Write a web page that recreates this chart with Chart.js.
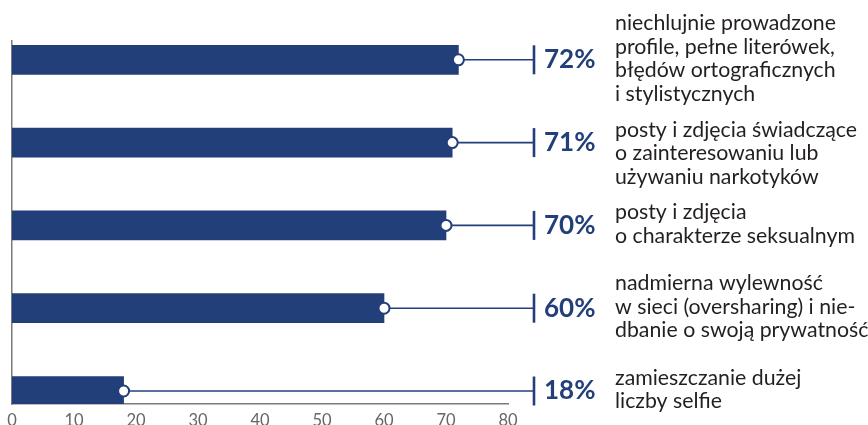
<!DOCTYPE html>
<html>
<head>
<meta charset="utf-8">
<script src="https://cdn.jsdelivr.net/npm/chart.js@4"></script>
<style>
  html, body { margin: 0; padding: 0; background: #fff; }
  #wrap { width: 868px; height: 425px; position: relative; }
</style>
</head>
<body>
<div id="wrap"><canvas id="chart"></canvas></div>
<script>
// data
const categories = [
  ["niechlujnie prowadzone", "profile, pełne literówek,", "błędów ortograficznych", "i stylistycznych"],
  ["posty i zdjęcia świadczące", "o zainteresowaniu lub", "używaniu narkotyków"],
  ["posty i zdjęcia", "o charakterze seksualnym"],
  ["nadmierna wylewność", "w sieci (oversharing) i nie-", "dbanie o swoją prywatność"],
  ["zamieszczanie dużej", "liczby selfie"]
];
const values = [72, 71, 70, 60, 18];
const percentLabels = ["72%", "71%", "70%", "60%", "18%"];
const xTicks = [0, 10, 20, 30, 40, 50, 60, 70, 80];

const BLUE = "#233f7a";
const AXIS = "#7a7a7a";

// connector line, marker, % label and description for every bar
const calloutPlugin = {
  id: "callouts",
  afterDatasetsDraw(chart) {
    const ctx = chart.ctx;
    const meta = chart.getDatasetMeta(0);
    const tickX = chart.chartArea.right + 26;
    meta.data.forEach((bar, i) => {
      const y = bar.y;
      ctx.save();
      ctx.strokeStyle = BLUE;
      ctx.lineWidth = 1.6;
      ctx.beginPath();
      ctx.moveTo(bar.x, y);
      ctx.lineTo(tickX, y);
      ctx.stroke();

      ctx.lineWidth = 2.6;
      ctx.beginPath();
      ctx.moveTo(tickX, y - 14.5);
      ctx.lineTo(tickX, y + 14.5);
      ctx.stroke();

      ctx.lineWidth = 2;
      ctx.fillStyle = "#fff";
      ctx.beginPath();
      ctx.arc(bar.x, y, 5.5, 0, Math.PI * 2);
      ctx.fill();
      ctx.stroke();

      ctx.fillStyle = BLUE;
      ctx.font = "bold 26px Lato";
      ctx.textAlign = "left";
      ctx.textBaseline = "middle";
      ctx.fillText(percentLabels[i], tickX + 10, y);

      // descriptions are centred on the bar, the second one sits a bit lower
      const lines = categories[i];
      const lh = 23.5;
      const nudge = i === 1 ? 12 : 0;
      ctx.fillStyle = "#231f20";
      ctx.font = "21.3px Lato";
      ctx.textBaseline = "alphabetic";
      let ly = y - (lines.length - 1) * lh / 2 + 5.5 + nudge;
      lines.forEach(t => {
        ctx.fillText(t, 615, ly);
        ly += lh;
      });
      ctx.restore();
    });
  }
};

new Chart(document.getElementById("chart"), {
  type: "bar",
  data: {
    datasets: [{
      data: values.map((v, i) => ({ x: v, y: i })),
      backgroundColor: BLUE,
      borderWidth: 0,
      barThickness: 29
    }]
  },
  options: {
    indexAxis: "y",
    responsive: true,
    maintainAspectRatio: false,
    animation: false,
    layout: { padding: { left: 12, right: 360, top: 41, bottom: 0 } },
    plugins: {
      legend: { display: false },
      tooltip: { enabled: false }
    },
    scales: {
      x: {
        type: "linear",
        min: 0,
        max: 80,
        afterBuildTicks: s => { s.ticks = xTicks.map(v => ({ value: v })); },
        afterFit: s => { s.height = 21; },
        grid: { display: false, drawTicks: false, tickLength: 0 },
        border: { display: true, color: AXIS, width: 1.5 },
        ticks: {
          color: "#666",
          padding: 7,
          font: { family: "Lato", size: 16.5 }
        }
      },
      y: {
        type: "linear",
        reverse: true,
        offset: false,
        min: -0.227,
        max: 4.157,
        grid: { display: false, drawTicks: false, tickLength: 0, offset: false },
        border: { display: true, color: AXIS, width: 1.5 },
        ticks: { display: false }
      }
    }
  },
  plugins: [calloutPlugin]
});
</script>
</body>
</html>
